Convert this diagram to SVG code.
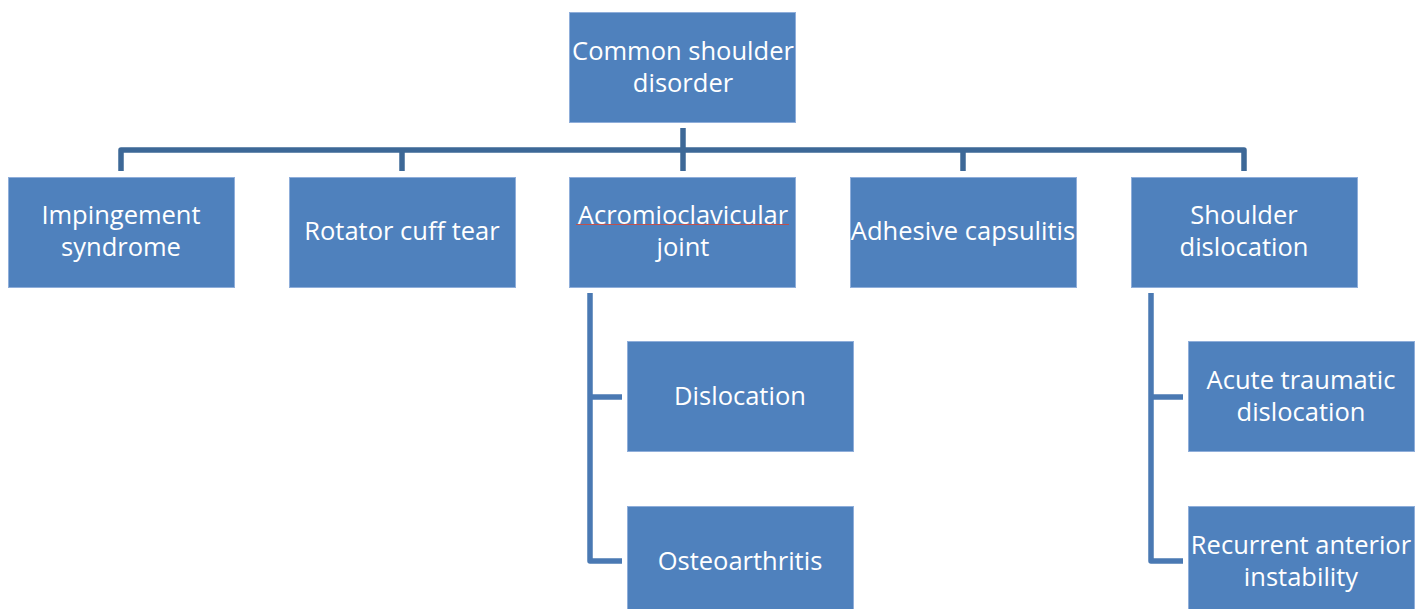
<svg xmlns="http://www.w3.org/2000/svg" width="1428" height="609" viewBox="0 0 1428 609">
<style>
.box{fill:#4F81BD;stroke:#8FAEDA;stroke-width:1}
.t{font-family:"Open Sans",Lato,sans-serif;font-size:25.5px;fill:#FFFFFF;text-anchor:middle}
.c1{fill:none;stroke:#3D6897;stroke-width:5.5;stroke-linejoin:round}
.c2{fill:none;stroke:#4A79B3;stroke-width:5.5;stroke-linejoin:round}
</style>
<rect width="1428" height="609" fill="#FFFFFF"/>
<g id="connectors">
<path class="c1" d="M683,128 V171"/>
<path class="c1" d="M121,171 V150 H1244 V171"/>
<path class="c1" d="M402,150 V171"/>
<path class="c1" d="M963,150 V171"/>
<path class="c2" d="M590,293 V561 H622"/>
<path class="c2" d="M590,397 H622"/>
<path class="c2" d="M1151,293 V561 H1183"/>
<path class="c2" d="M1151,397 H1183"/>
</g>
<g id="root">
<rect class="box" x="569.5" y="12.5" width="226" height="110"/>
<text class="t" x="683" y="60">Common shoulder</text>
<text class="t" x="683" y="92">disorder</text>
</g>
<g id="impingement">
<rect class="box" x="8.5" y="177.5" width="226" height="110"/>
<text class="t" x="121" y="224">Impingement</text>
<text class="t" x="121" y="256">syndrome</text>
</g>
<g id="rotator">
<rect class="box" x="289.5" y="177.5" width="226" height="110"/>
<text class="t" x="402" y="240">Rotator cuff tear</text>
</g>
<g id="acromio">
<rect class="box" x="569.5" y="177.5" width="226" height="110"/>
<text class="t" x="683" y="224">Acromioclavicular</text>
<line x1="576" y1="224.5" x2="789" y2="224.5" stroke="#C0504D" stroke-width="1"/>
<text class="t" x="683" y="256">joint</text>
</g>
<g id="adhesive">
<rect class="box" x="850.5" y="177.5" width="226" height="110"/>
<text class="t" x="963" y="240">Adhesive capsulitis</text>
</g>
<g id="shoulder">
<rect class="box" x="1131.5" y="177.5" width="226" height="110"/>
<text class="t" x="1244" y="224">Shoulder</text>
<text class="t" x="1244" y="256">dislocation</text>
</g>
<g id="dislocation">
<rect class="box" x="627.5" y="341.5" width="226" height="110"/>
<text class="t" x="740" y="405">Dislocation</text>
</g>
<g id="osteoarthritis">
<rect class="box" x="627.5" y="506.5" width="226" height="110"/>
<text class="t" x="740" y="570">Osteoarthritis</text>
</g>
<g id="acute">
<rect class="box" x="1188.5" y="341.5" width="226" height="110"/>
<text class="t" x="1301" y="389">Acute traumatic</text>
<text class="t" x="1301" y="421">dislocation</text>
</g>
<g id="recurrent">
<rect class="box" x="1188.5" y="506.5" width="226" height="110"/>
<text class="t" x="1301" y="554">Recurrent anterior</text>
<text class="t" x="1301" y="586">instability</text>
</g>
</svg>
